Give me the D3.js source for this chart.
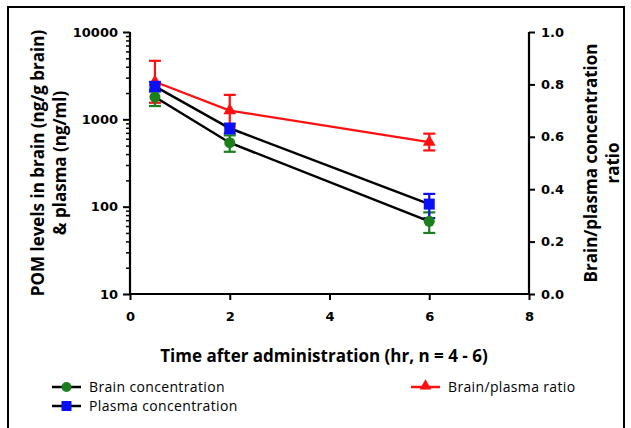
<!DOCTYPE html>
<html>
<head>
<meta charset="utf-8">
<script src="https://cdn.jsdelivr.net/npm/d3@7"></script>
<style>
  body { margin: 0; background: #fff; }
  .tick text { font-family: "DejaVu Sans", sans-serif; font-weight: bold; font-size: 13px; fill: #000; }
  .title { font-family: "Open Sans", sans-serif; font-weight: bold; font-size: 17px; fill: #000; }
  .legend { font-family: "Open Sans", sans-serif; font-size: 14px; letter-spacing: 0.35px; fill: #000; }
</style>
</head>
<body>
<div id="chart"></div>
<script>
// values
var times = [0.5, 2, 6];
var brain = [1800, 540, 68];
var brainErr = [380, 115, 18];
var plasma = [2380, 790, 107];
var plasmaErr = [300, 100, 33];
var ratio = [0.81, 0.70, 0.58];
var ratioErr = [0.08, 0.06, 0.032];

var xTicks = [0, 2, 4, 6, 8];
var leftTicks = [10, 100, 1000, 10000];
var rightTicks = [0, 0.2, 0.4, 0.6, 0.8, 1.0];

var svgWidth = 631;
var svgHeight = 428;
var margin = { top: 32, left: 130, right: 102, bottom: 134 };
var width = svgWidth - margin.left - margin.right;
var height = svgHeight - margin.top - margin.bottom;

var svg = d3.select("#chart")
  .append("svg")
  .attr("width", svgWidth)
  .attr("height", svgHeight);

// frame round the figure
svg.append("rect")
  .attr("x", 8).attr("y", 7)
  .attr("width", 616).attr("height", 440)
  .attr("fill", "none")
  .attr("stroke", "#000")
  .attr("stroke-width", 2);

var chartGroup = svg.append("g")
  .attr("transform", `translate(${margin.left}, ${margin.top})`);

var xScale = d3.scaleLinear().domain([0, 8]).range([0, width]);
var yLog = d3.scaleLog().domain([10, 10000]).range([height, 0]);
var yRatio = d3.scaleLinear().domain([0, 1]).range([height, 0]);

// minor log ticks
var minor = [];
[10, 100, 1000].forEach(function(d) {
  for (var k = 2; k < 10; k++) minor.push(d * k);
});

chartGroup.append("g")
  .call(d3.axisLeft(yLog).tickValues(minor).tickSize(4).tickFormat(""))
  .call(g => g.select(".domain").remove())
  .selectAll("line").attr("stroke-width", 1.5);

var leftAxis = chartGroup.append("g")
  .call(d3.axisLeft(yLog).tickValues(leftTicks).tickSize(7).tickPadding(5).tickFormat(d3.format("d")));

var rightAxis = chartGroup.append("g")
  .attr("transform", `translate(${width}, 0)`)
  .call(d3.axisRight(yRatio).tickValues(rightTicks).tickSize(6).tickPadding(6).tickFormat(d3.format(".1f")));

var bottomAxis = chartGroup.append("g")
  .attr("transform", `translate(0, ${height})`)
  .call(d3.axisBottom(xScale).tickValues(xTicks).tickSize(6).tickPadding(12).tickFormat(d3.format("d")));

[leftAxis, rightAxis, bottomAxis].forEach(function(a) {
  a.select(".domain").attr("stroke-width", 2.2);
  a.selectAll(".tick line").attr("stroke-width", 2);
});
leftAxis.select(".domain").attr("d", `M0,0V${height}`);
rightAxis.select(".domain").attr("d", `M0,0V${height}`);
bottomAxis.select(".domain").attr("d", `M0,0H${width}`);

var green = "#1b7f1b";
var blue = "#0a10f5";
var red = "#ff1010";

function errorBars(vals, errs, scale, color, lw) {
  var g = chartGroup.append("g").attr("stroke", color).attr("stroke-width", lw);
  times.forEach(function(t, i) {
    var x = xScale(t);
    var y1 = scale(vals[i] + errs[i]);
    var y0 = scale(vals[i] - errs[i]);
    g.append("line").attr("x1", x).attr("x2", x).attr("y1", y1).attr("y2", y0);
    g.append("line").attr("x1", x - 6).attr("x2", x + 6).attr("y1", y1).attr("y2", y1);
    g.append("line").attr("x1", x - 6).attr("x2", x + 6).attr("y1", y0).attr("y2", y0);
  });
}

// ratio (right axis)
errorBars(ratio, ratioErr, yRatio, red, 2.2);
chartGroup.append("path")
  .datum(ratio)
  .attr("fill", "none")
  .attr("stroke", red)
  .attr("stroke-width", 2.2)
  .attr("d", d3.line().x((d, i) => xScale(times[i])).y(d => yRatio(d)));
chartGroup.selectAll(".tri")
  .data(ratio)
  .enter()
  .append("path")
  .attr("transform", (d, i) => `translate(${xScale(times[i])}, ${yRatio(d)})`)
  .attr("d", d3.symbol(d3.symbolTriangle, 70))
  .attr("fill", red);

// brain + plasma (left axis)
errorBars(brain, brainErr, yLog, green, 2.2);
errorBars(plasma, plasmaErr, yLog, blue, 2.2);

var logLine = d3.line().x((d, i) => xScale(times[i])).y(d => yLog(d));
[brain, plasma].forEach(function(s) {
  chartGroup.append("path")
    .datum(s)
    .attr("fill", "none")
    .attr("stroke", "#000")
    .attr("stroke-width", 2.5)
    .attr("d", logLine);
});

chartGroup.selectAll(".brainDot")
  .data(brain)
  .enter()
  .append("circle")
  .attr("cx", (d, i) => xScale(times[i]))
  .attr("cy", d => yLog(d))
  .attr("r", 5.5)
  .attr("fill", green);

chartGroup.selectAll(".plasmaDot")
  .data(plasma)
  .enter()
  .append("rect")
  .attr("x", (d, i) => xScale(times[i]) - 5.5)
  .attr("y", d => yLog(d) - 5.5)
  .attr("width", 11)
  .attr("height", 11)
  .attr("fill", blue);

// axis titles
svg.append("text")
  .attr("class", "title")
  .attr("x", 324)
  .attr("y", 362)
  .attr("text-anchor", "middle")
  .text("Time after administration (hr, n = 4 - 6)");

var yMid = margin.top + height / 2;
var leftTitle = svg.append("text")
  .attr("class", "title")
  .attr("transform", `translate(0, ${yMid}) rotate(-90)`)
  .attr("text-anchor", "middle");
leftTitle.append("tspan").attr("x", 0).attr("y", 44).text("POM levels in brain (ng/g brain)");
leftTitle.append("tspan").attr("x", 0).attr("y", 66).text("& plasma (ng/ml)");

var rightTitle = svg.append("text")
  .attr("class", "title")
  .attr("transform", `translate(0, ${yMid}) rotate(-90)`)
  .attr("text-anchor", "middle");
rightTitle.append("tspan").attr("x", 0).attr("y", 597).text("Brain/plasma concentration");
rightTitle.append("tspan").attr("x", 0).attr("y", 619).text("ratio");

// legend
var legendItems = [
  { name: "Brain concentration", color: green, shape: "circle", lx: 52, ly: 387 },
  { name: "Plasma concentration", color: blue, shape: "square", lx: 52, ly: 406 },
  { name: "Brain/plasma ratio", color: red, shape: "triangle", lx: 411, ly: 387 }
];
legendItems.forEach(function(it) {
  var g = svg.append("g").attr("transform", `translate(${it.lx}, ${it.ly})`);
  g.append("line").attr("x1", 0).attr("x2", 29).attr("y1", 0).attr("y2", 0)
    .attr("stroke", it.shape === "triangle" ? red : "#000").attr("stroke-width", 2.5);
  if (it.shape === "circle") {
    g.append("circle").attr("cx", 14.5).attr("cy", 0).attr("r", 5).attr("fill", it.color);
  } else if (it.shape === "square") {
    g.append("rect").attr("x", 9.5).attr("y", -5).attr("width", 10).attr("height", 10).attr("fill", it.color);
  } else {
    g.append("path").attr("transform", "translate(14.5, -1)").attr("d", d3.symbol(d3.symbolTriangle, 60)).attr("fill", it.color);
  }
  g.append("text").attr("class", "legend").attr("x", 37).attr("y", 5).text(it.name);
});
</script>
</body>
</html>
